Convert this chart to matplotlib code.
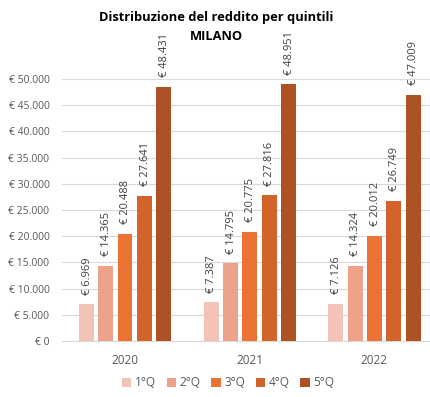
import matplotlib
matplotlib.use("Agg")
import matplotlib.pyplot as plt
import numpy as np
from matplotlib.ticker import FuncFormatter

years = ["2020", "2021", "2022"]
quintiles = ["1°Q", "2°Q", "3°Q", "4°Q", "5°Q"]
values = {
    "1°Q": [6969, 7387, 7126],
    "2°Q": [14365, 14795, 14324],
    "3°Q": [20488, 20775, 20012],
    "4°Q": [27641, 27816, 26749],
    "5°Q": [48431, 48951, 47009],
}
colors = ["#F4C3B7", "#EEA28A", "#EB7434", "#D1632B", "#AD5225"]

plt.rcParams['font.family'] = ['Open Sans', 'DejaVu Sans']

fig = plt.figure(figsize=(4.31, 3.97), dpi=100)
ax = fig.add_axes([62/431, 1-341/397, 368/431, 262/397])

def fmt(v):
    return "€ " + f"{v:,.0f}".replace(",", ".")

x = np.arange(len(years))
pitch = 0.155
w = 0.12
for i, q in enumerate(quintiles):
    pos = x + (i - 2) * pitch
    bars = ax.bar(pos, values[q], width=w, color=colors[i], label=q, zorder=3)
    for b, v in zip(bars, values[q]):
        ax.annotate(fmt(v), (b.get_x() + b.get_width()/2, v), xytext=(0.5, 7),
                    textcoords="offset points", rotation=90,
                    ha="center", va="bottom", fontsize=8, color="#404040",
                    annotation_clip=False)

unit = 124.7
ax.set_xlim(-(125-62)/unit, (430-125)/unit)
ax.set_ylim(0, 50000)
ax.set_yticks(np.arange(0, 50001, 5000))
ax.yaxis.set_major_formatter(FuncFormatter(lambda v, p: fmt(v)))
ax.set_xticks(x)
ax.set_xticklabels(years)
ax.tick_params(axis="both", length=0, colors="#595959")
ax.tick_params(axis="y", labelsize=7.5, pad=9)
ax.tick_params(axis="x", labelsize=8.5, pad=9)
ax.grid(axis="y", color="#D9D9D9", linewidth=0.8, zorder=0)
for s in ["top", "right", "left"]:
    ax.spines[s].set_visible(False)
ax.spines["bottom"].set_color("#D9D9D9")

fig.text(0.5 + 1/431, 1-17/397, "Distribuzione del reddito per quintili", ha="center", va="center",
         fontsize=9.3, fontweight="bold", color="#000000")
fig.text(0.5 + 1/431, 1-36/397, "MILANO", ha="center", va="center",
         fontsize=9.3, fontweight="bold", color="#000000")

leg = fig.legend(loc="center", bbox_to_anchor=(228/431, 1-383/397), ncol=5, frameon=False,
                 fontsize=8.5, handlelength=0.8, handleheight=0.8, columnspacing=0.9,
                 handletextpad=0.3, labelcolor="#595959")

fig.savefig("out.png", dpi=100)
